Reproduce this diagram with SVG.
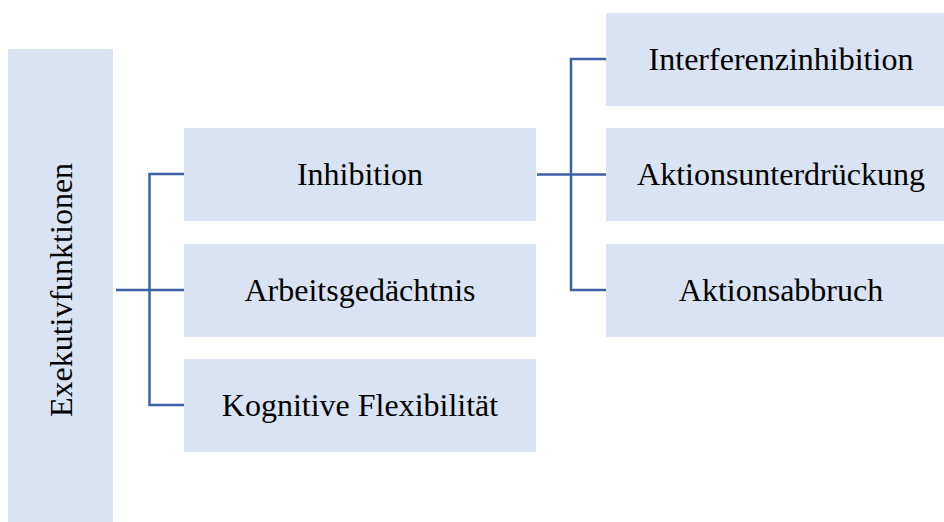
<svg xmlns="http://www.w3.org/2000/svg" width="944" height="522" viewBox="0 0 944 522">
<style>
.box{fill:#DAE3F3;}
.t{font-family:"Liberation Serif","Times New Roman",serif;font-size:32px;fill:#000;text-anchor:middle;}
.c{fill:none;stroke:#3C62A6;stroke-width:2.5;}
</style>
<rect width="944" height="522" fill="#fff"/>
<g id="n-exekutiv"><rect class="box" x="8" y="49" width="105" height="473"/><text class="t" transform="translate(72,290) rotate(-90)">Exekutivfunktionen</text></g>
<g id="n-inhibition"><rect class="box" x="184" y="128" width="352" height="93"/><text class="t" x="360" y="185">Inhibition</text></g>
<g id="n-arbeit"><rect class="box" x="184" y="244" width="352" height="93"/><text class="t" x="360" y="301">Arbeitsgedächtnis</text></g>
<g id="n-kognitiv"><rect class="box" x="184" y="359" width="352" height="93"/><text class="t" x="360" y="416">Kognitive Flexibilität</text></g>
<g id="n-interferenz"><rect class="box" x="606" y="13" width="338" height="93"/><text class="t" x="781" y="70">Interferenzinhibition</text></g>
<g id="n-aktionsunter"><rect class="box" x="606" y="128" width="338" height="93"/><text class="t" x="781" y="185">Aktionsunterdrückung</text></g>
<g id="n-aktionsabbruch"><rect class="box" x="606" y="244" width="338" height="93"/><text class="t" x="781" y="301">Aktionsabbruch</text></g>
<g id="connectors">
<path class="c" d="M116,290 H184 M184,174 H149.5 V405 H184"/>
<path class="c" d="M537,174.5 H606 M606,59 H571 V290 H606"/>
</g>
</svg>
